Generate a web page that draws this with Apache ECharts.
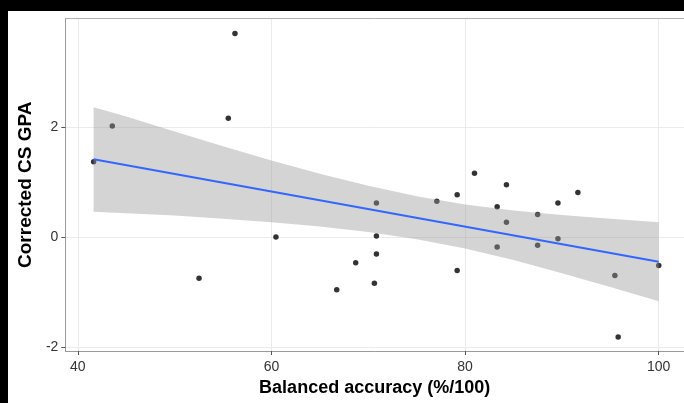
<!DOCTYPE html>
<html>
<head>
<meta charset="utf-8">
<script src="https://cdn.jsdelivr.net/npm/echarts@6/dist/echarts.min.js"></script>
<style>
html,body{margin:0;padding:0;background:#000;width:684px;height:403px;overflow:hidden;}
#c{position:absolute;left:8px;top:11px;width:676px;height:392px;}
</style>
</head>
<body>
<div id="c"></div>
<script>
// Scatter points (Balanced accuracy, Corrected CS GPA)
const pointX = [41.63, 43.56, 52.52, 55.54, 56.23, 60.46, 66.74, 68.70, 70.63, 70.84, 70.84, 70.84, 77.08, 79.18, 79.18, 80.97, 83.31, 83.31, 84.27, 84.27, 87.49, 87.49, 89.59, 89.59, 91.65, 95.47, 95.81, 100.0];
const pointY = [1.37, 2.02, -0.75, 2.16, 3.70, 0.00, -0.96, -0.47, -0.84, 0.62, 0.02, -0.31, 0.65, 0.77, -0.61, 1.16, 0.55, -0.18, 0.95, 0.27, 0.41, -0.15, 0.62, -0.03, 0.81, -0.70, -1.82, -0.52];

// Fitted line
const lineX = [41.63, 100];
const lineY = [1.413, -0.45];

// Confidence band
const bandX     = [41.63, 45, 50, 55, 60, 65, 70, 75, 80, 85, 90, 95, 100];
const bandUpper = [2.36, 2.19, 1.92, 1.65, 1.39, 1.15, 0.93, 0.74, 0.59, 0.48, 0.40, 0.33, 0.27];
const bandLower = [0.46, 0.43, 0.39, 0.33, 0.27, 0.19, 0.09, -0.04, -0.21, -0.42, -0.66, -0.91, -1.17];

const xMin = 38.71, xMax = 102.61;
const yMin = -2.073, yMax = 3.973;

const chart = echarts.init(document.getElementById('c'), null, {renderer: 'canvas'});
const font = "'Liberation Sans', Arial, Helvetica, sans-serif";

chart.setOption({
  animation: false,
  backgroundColor: '#ffffff',
  grid: {left: 56, top: 7.5, right: 0, bottom: 52, containLabel: false},
  xAxis: [{
    type: 'value', min: xMin, max: xMax, splitNumber: 3,
    name: 'Balanced accuracy (%/100)', nameLocation: 'middle', nameGap: 21,
    nameTextStyle: {fontFamily: font, fontSize: 18, fontWeight: 'bold', color: '#000'},
    axisLine: {show: true, onZero: false, lineStyle: {color: '#9a9a9a', width: 1}},
    axisTick: {show: true, length: 4, lineStyle: {color: '#555'}},
    axisLabel: {show: true, margin: 9, fontFamily: font, fontSize: 14, color: '#333', showMinLabel: false, showMaxLabel: false},
    splitLine: {show: true, lineStyle: {color: '#ebebeb', width: 1}}
  }, {
    type: 'value', position: 'top', min: xMin, max: xMax,
    axisLine: {show: true, onZero: false, lineStyle: {color: '#b0b0b0', width: 1}},
    axisTick: {show: false}, axisLabel: {show: false}, splitLine: {show: false}
  }],
  yAxis: {
    type: 'value', min: yMin, max: yMax, splitNumber: 3,
    name: 'Corrected CS GPA', nameLocation: 'middle', nameGap: 25,
    nameTextStyle: {fontFamily: font, fontSize: 19, fontWeight: 'bold', color: '#000'},
    axisLine: {show: true, onZero: false, lineStyle: {color: '#9a9a9a', width: 1}},
    axisTick: {show: true, length: 4, lineStyle: {color: '#555'}},
    axisLabel: {show: true, margin: 7, fontFamily: font, fontSize: 14, color: '#333', showMinLabel: false, showMaxLabel: false},
    splitLine: {show: true, lineStyle: {color: '#ebebeb', width: 1}}
  },
  series: [{
    type: 'scatter',
    data: pointX.map((x, i) => [x, pointY[i]]),
    symbolSize: 5.5,
    itemStyle: {color: '#000'},
    z: 2, silent: true
  }, {
    type: 'custom',
    data: [[bandX[0], bandUpper[0]]],
    renderItem: function (params, api) {
      const pts = [];
      for (let i = 0; i < bandX.length; i++) pts.push(api.coord([bandX[i], bandUpper[i]]));
      for (let i = bandX.length - 1; i >= 0; i--) pts.push(api.coord([bandX[i], bandLower[i]]));
      return {type: 'polygon', shape: {points: pts}, style: {fill: 'rgba(153,153,153,0.42)'}};
    },
    z: 3, silent: true
  }, {
    type: 'line',
    data: lineX.map((x, i) => [x, lineY[i]]),
    showSymbol: false,
    lineStyle: {color: '#3366FF', width: 2},
    z: 4, silent: true
  }]
});
</script>
</body>
</html>
